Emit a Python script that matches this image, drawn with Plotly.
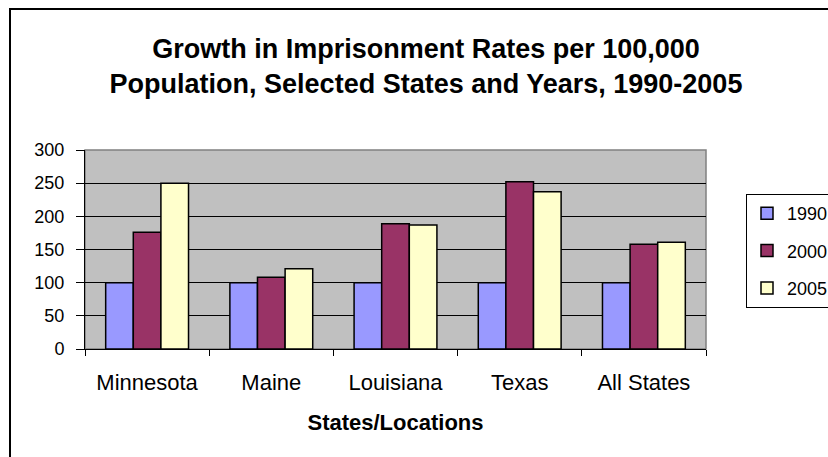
import plotly.graph_objects as go

categories = ["Minnesota", "Maine", "Louisiana", "Texas", "All States"]
series_names = ["1990", "2000", "2005"]
values_1990 = [100, 100, 100, 100, 100]
values_2000 = [176, 108, 189, 252, 158]
values_2005 = [250, 121, 187, 237, 161]
colors = ["#9999FF", "#993366", "#FFFFCC"]

W, H = 828, 457
L, R, T, B = 85, 122, 150, 108
pw, ph = W - L - R, H - T - B

def px_x(p):
    return (p - L) / pw

def px_y(p):
    return (H - B - p) / ph

fig = go.Figure()
for i, (name, vals) in enumerate(zip(series_names, [values_1990, values_2000, values_2005])):
    fig.add_trace(go.Bar(
        x=categories, y=vals, name=name,
        marker=dict(color=colors[i], line=dict(color="black", width=1.5)),
        legendgroup=name,
    ))

font = "Liberation Sans, Arial, sans-serif"
fig.update_layout(
    width=W, height=H,
    margin=dict(l=L, r=R, t=T, b=B),
    paper_bgcolor="white",
    plot_bgcolor="#C0C0C0",
    barmode="group",
    bargap=0.333,
    bargroupgap=0,
    font=dict(family=font, color="black", size=19),
    title=dict(
        text="<b>Growth in Imprisonment Rates per 100,000<br>Population, Selected States and Years, 1990-2005</b>",
        x=426 / W, xref="container", xanchor="center",
        y=1 - 58 / H, yref="container", yanchor="middle",
        font=dict(size=27, family=font),
    ),
    xaxis=dict(
        showline=True, linecolor="black", linewidth=1,
        ticks="outside", ticklen=6, tickcolor="black", tickson="boundaries",
        tickfont=dict(size=22),
        ticklabelstandoff=14,
        title=dict(text="<b>States/Locations</b>", font=dict(size=22), standoff=20),
        showgrid=False,
    ),
    yaxis=dict(
        range=[0, 300], dtick=50,
        showline=True, linecolor="black", linewidth=1,
        ticks="outside", ticklen=8, tickcolor="black",
        tickfont=dict(size=18),
        ticklabelstandoff=8,
        showgrid=True, gridcolor="black", gridwidth=1,
        zeroline=False,
    ),
    legend=dict(
        x=746 / W, y=1 - 194 / H, xanchor="left", yanchor="top",
        xref="container", yref="container",
        bgcolor="white", bordercolor="black", borderwidth=1,
        font=dict(size=18),
        traceorder="grouped", tracegroupgap=11,
        itemwidth=30,
    ),
    shapes=[
        dict(type="rect", xref="paper", yref="paper",
             x0=0, x1=1, y0=0, y1=1,
             line=dict(color="#808080", width=1.5), layer="below"),
        dict(type="rect", xref="paper", yref="paper",
             x0=px_x(10), x1=px_x(860), y0=px_y(9), y1=px_y(490),
             line=dict(color="black", width=2)),
    ],
)

fig.write_html("out.html", config={"displayModeBar": False},
               post_script="document.body.style.margin='0';")
